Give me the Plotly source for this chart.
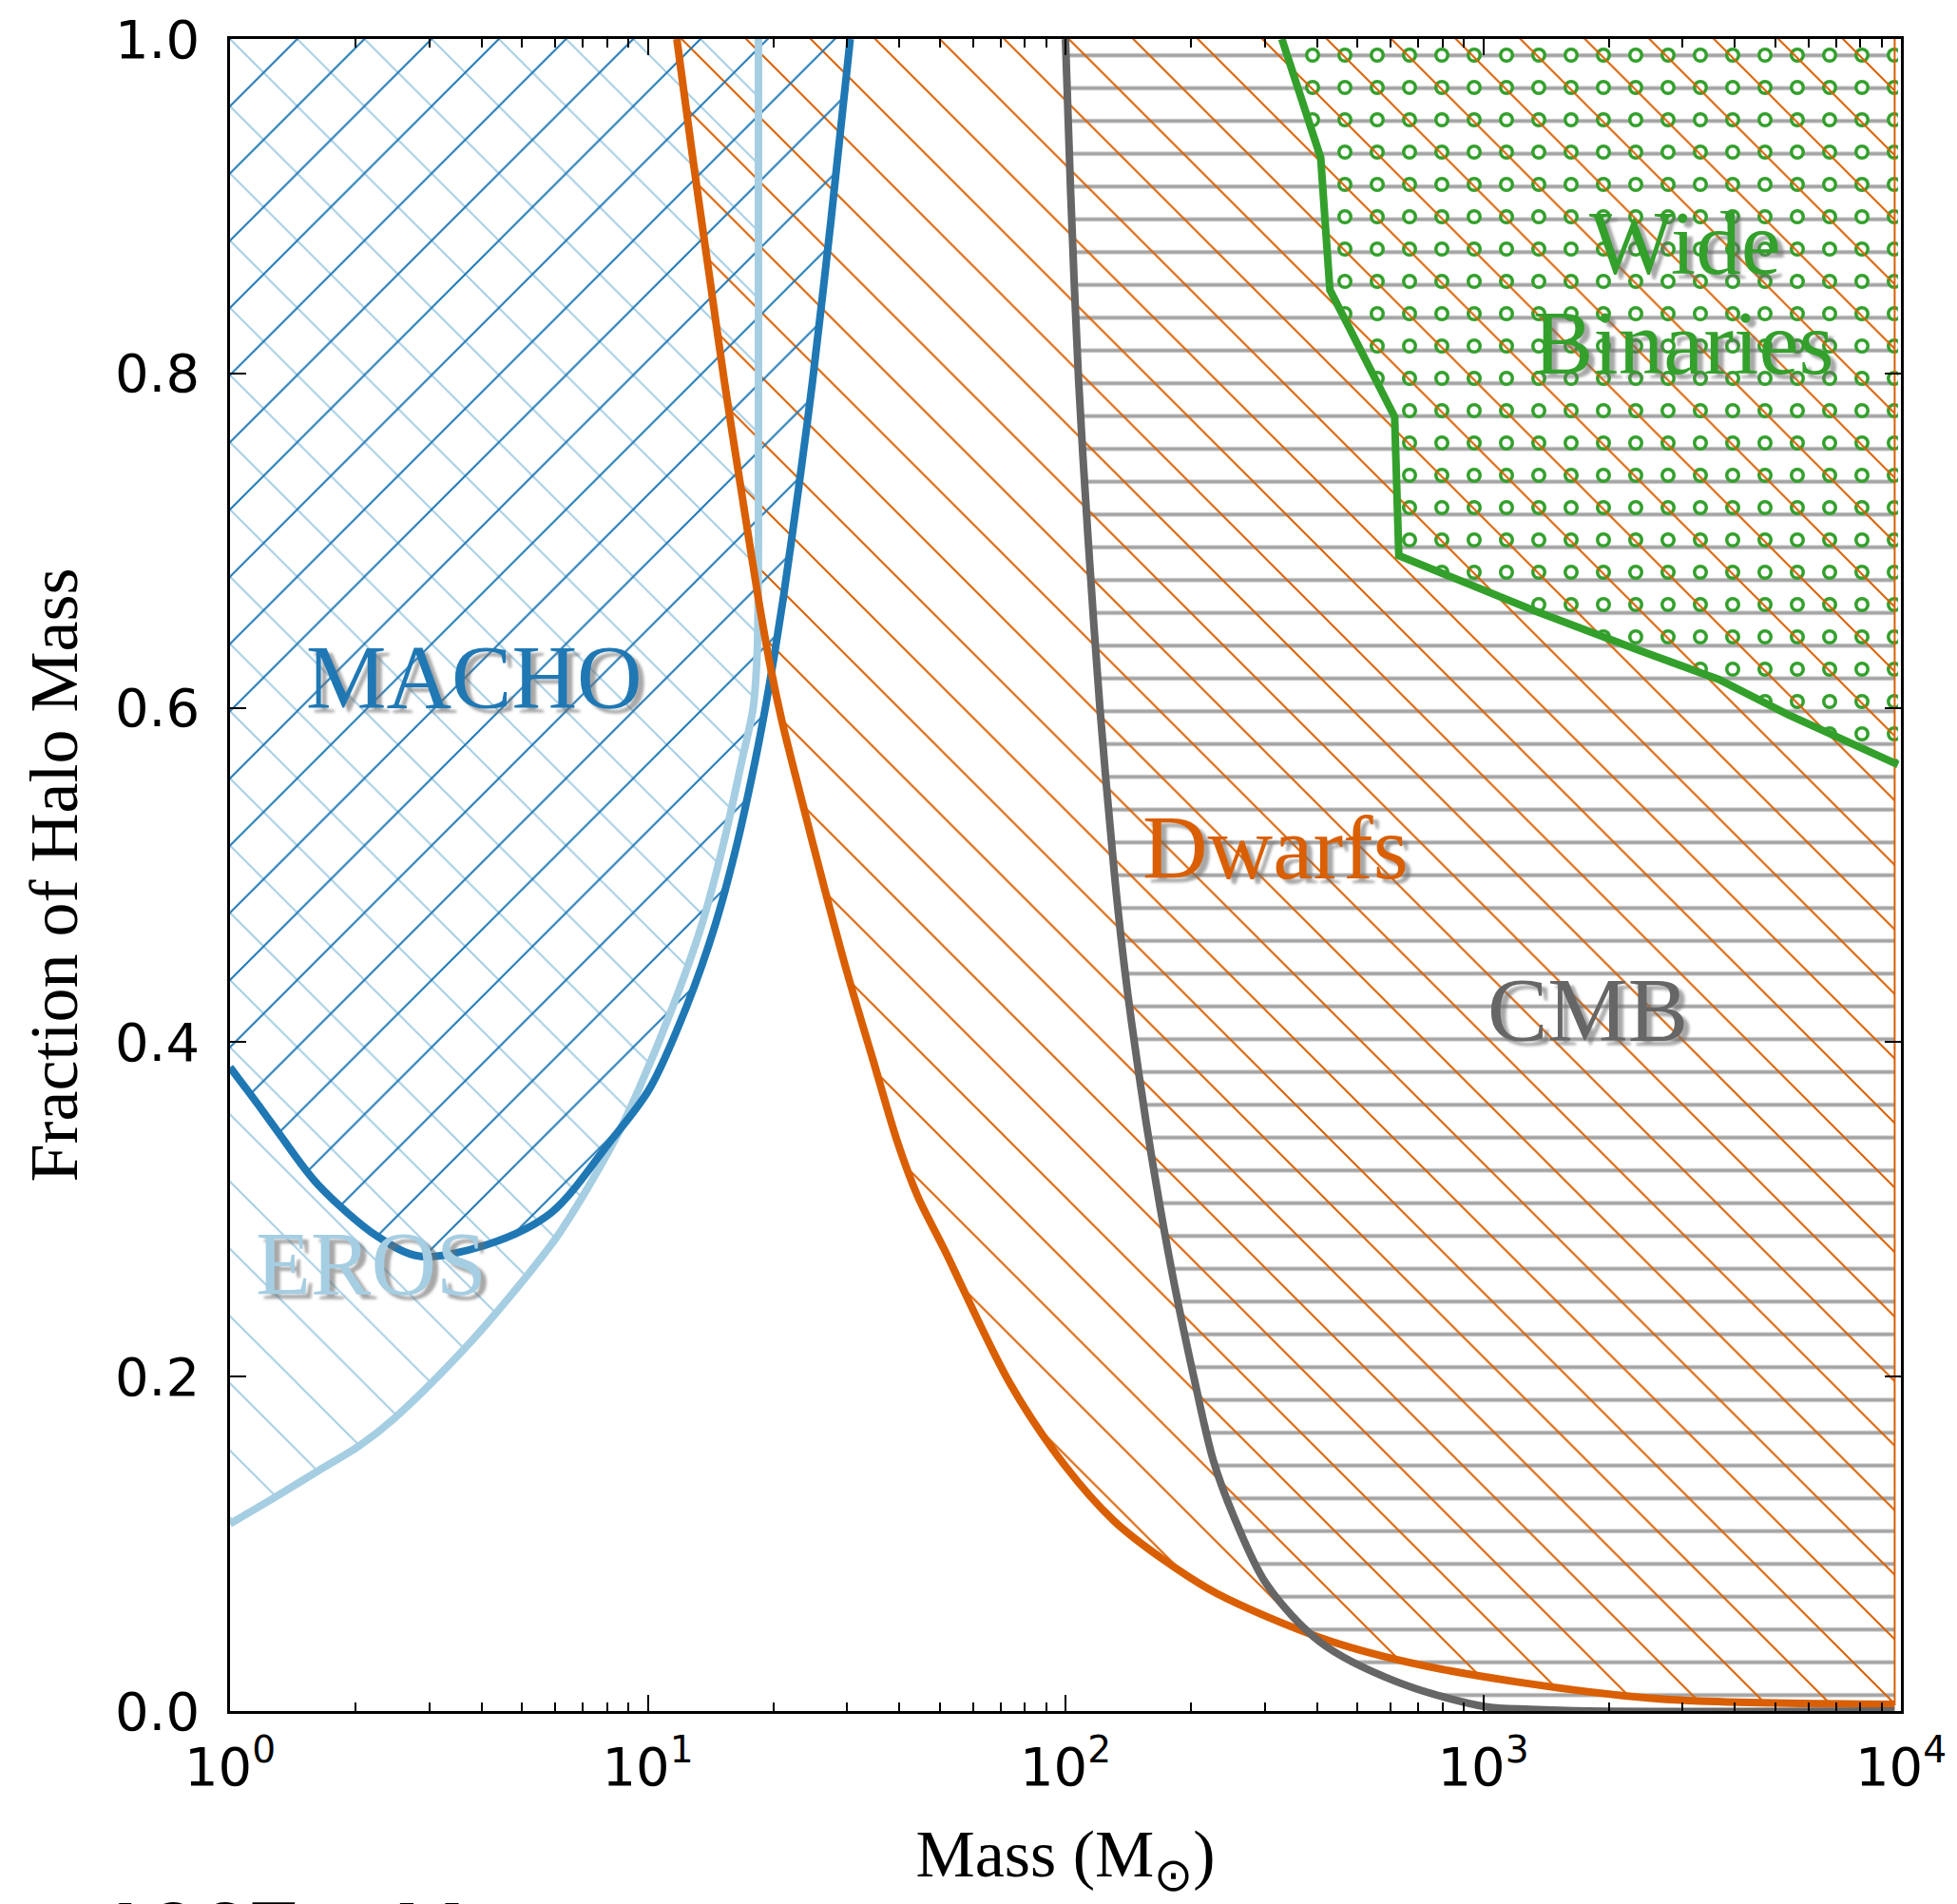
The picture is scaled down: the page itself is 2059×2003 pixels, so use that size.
import math
import plotly.graph_objects as go

# ---------------- data ----------------
# MACHO microlensing bound (upper limit on halo fraction vs mass in Msun)
macho_mass = [1.0, 1.197, 1.314, 1.622, 2.249, 2.842, 4.130, 5.871, 8.15, 10.09,
              12.37, 14.50, 16.37, 18.07, 19.12, 20.14, 21.09, 22.96, 24.82, 27.44, 30.53]
macho_frac = [0.385, 0.359, 0.345, 0.315, 0.284, 0.272, 0.279, 0.298, 0.341, 0.372,
              0.421, 0.470, 0.519, 0.568, 0.600, 0.633, 0.665, 0.731, 0.796, 0.891, 1.0]

# EROS microlensing bound
eros_mass = [1.0, 1.284, 1.622, 2.050, 2.472, 3.589, 4.753, 6.152, 8.318, 9.522,
             11.47, 13.46, 15.19, 16.79, 17.88, 18.28, 18.41, 18.41]
eros_frac = [0.112, 0.128, 0.1435, 0.159, 0.175, 0.215, 0.250, 0.286, 0.341, 0.372,
             0.421, 0.470, 0.519, 0.568, 0.600, 0.633, 0.700, 1.0]

# Ultra-faint dwarf bound
dwarfs_mass = [11.74, 12.83, 13.98, 15.24, 16.72, 18.41, 19.72, 20.91, 23.19, 26.24,
               29.91, 34.56, 39.65, 44.26, 51.29, 73.62, 99.54, 130.3, 171.0, 230.7,
               408.3, 660.7, 1205, 2698, 9661]
dwarfs_frac = [1.0, 0.928, 0.862, 0.796, 0.731, 0.665, 0.623, 0.593, 0.548, 0.496,
               0.443, 0.390, 0.340, 0.308, 0.276, 0.196, 0.147, 0.114, 0.0908, 0.0702,
               0.0438, 0.0292, 0.0174, 0.0071, 0.004]

# CMB bound
cmb_mass = [100.0, 102.8, 107.5, 113.5, 120.9, 130.8, 136.9, 144.1, 156.0, 168.3,
            182.3, 204.4, 225.8, 252.3, 302.7, 408.3, 622.3, 1007, 1300, 1800, 9661]
cmb_frac = [1.0, 0.911, 0.796, 0.698, 0.600, 0.502, 0.455, 0.411, 0.352, 0.302,
            0.255, 0.196, 0.150, 0.117, 0.076, 0.041, 0.0174, 0.0027, 0.001, 0.0, 0.0]

# Wide binaries bound
wb_mass = [329.6, 408.3, 429.5, 613.8, 628.1, 1327, 2382, 3664, 5358, 9840]
wb_frac = [1.0, 0.929, 0.850, 0.774, 0.691, 0.658, 0.634, 0.617, 0.596, 0.566]

# axis ticks
x_tickvals = [1, 10, 100, 1000, 10000]
x_ticktext = ["10<sup>0</sup>", "10<sup>1</sup>", "10<sup>2</sup>", "10<sup>3</sup>", "10<sup>4</sup>"]
x_minor_tickvals = [k * 10 ** d for d in range(4) for k in range(2, 10)]
y_tickvals = [0.0, 0.2, 0.4, 0.6, 0.8, 1.0]
y_ticktext = ["0.0", "0.2", "0.4", "0.6", "0.8", "1.0"]

# region labels: text, mass, fraction
label_text = ["MACHO", "EROS", "Dwarfs", "CMB", "Wide", "Binaries"]
label_mass = [3.85, 2.18, 318.0, 1775.0, 3040.0, 3013.0]
label_frac = [0.618, 0.267, 0.516, 0.419, 0.878, 0.818]

# ---------------- styles ----------------
C_MACHO = "#1f78b4"
C_EROS = "#a6cee3"
C_DWARF = "#d95f02"
C_CMB = "#666666"
C_WB = "#33a02c"
label_colors = [C_MACHO, C_EROS, C_DWARF, C_CMB, C_WB, C_WB]

X_MIN, Y_MAX = 1.0, 1.0
CLEAR = "rgba(0,0,0,0)"

fig = go.Figure()


def region(mass, frac, close_x, shape, fg, size, solidity, edge_width=0, edge_color=CLEAR):
    """Hatched region above a bound curve, closed along the top of the plot."""
    fig.add_trace(go.Scatter(
        x=list(mass) + [close_x], y=list(frac) + [Y_MAX],
        mode="lines", fill="toself", fillcolor=CLEAR,
        line=dict(width=edge_width, color=edge_color),
        fillpattern=dict(shape=shape, fgcolor=fg, bgcolor=CLEAR, size=size,
                         solidity=solidity, fillmode="replace"),
        hoverinfo="skip", showlegend=False))


# hatched regions (drawn back to front)
region(cmb_mass, cmb_frac, cmb_mass[-1], "-", "#a4a4a4", 34.5, 0.12)
region(wb_mass, wb_frac, wb_mass[-1], ".", C_WB, 34, 0.174)
region(wb_mass, wb_frac, wb_mass[-1], ".", "white", 34, 0.055)
region(dwarfs_mass, dwarfs_frac, dwarfs_mass[-1], "\\", C_DWARF, 48, 0.042,
       edge_width=2, edge_color=C_DWARF)
region(eros_mass, eros_frac, X_MIN, "\\", C_EROS, 50, 0.04)
region(macho_mass, macho_frac, X_MIN, "/", C_MACHO, 50, 0.04)

# bound curves
for mass, frac, col, shp in [(eros_mass, eros_frac, C_EROS, "spline"),
                             (macho_mass, macho_frac, C_MACHO, "spline"),
                             (dwarfs_mass, dwarfs_frac, C_DWARF, "spline"),
                             (cmb_mass, cmb_frac, C_CMB, "spline"),
                             (wb_mass, wb_frac, C_WB, "linear")]:
    fig.add_trace(go.Scatter(x=mass, y=frac, mode="lines",
                             line=dict(color=col, width=8, shape=shp, smoothing=0.9),
                             hoverinfo="skip", showlegend=False))

# region labels
for txt, m, f, col in zip(label_text, label_mass, label_frac, label_colors):
    fig.add_annotation(x=math.log10(m), y=f, xref="x", yref="y", text=txt,
                       showarrow=False, xanchor="center", yanchor="middle",
                       font=dict(family="Liberation Serif", size=95, color=col,
                                 shadow="6px 5px 3px rgba(110,110,110,0.6)"))

# partially visible caption cut off by the image bottom
fig.add_annotation(x=-0.080, y=-0.1015, xref="paper", yref="paper", text="1067  eV",
                   showarrow=False, xanchor="left", yanchor="top",
                   font=dict(family="Liberation Sans", size=95, color="black", weight="bold"))

tickfont = dict(family="DejaVu Sans", size=56, color="black")
fig.update_layout(
    width=2059, height=2003,
    margin=dict(l=242, r=59, t=41, b=203),
    paper_bgcolor="white", plot_bgcolor="white", showlegend=False,
)
fig.update_xaxes(
    type="log", range=[0, 4], tickmode="array", tickvals=x_tickvals, ticktext=x_ticktext,
    ticks="inside", ticklen=17, tickwidth=2, tickcolor="black",
    minor=dict(tickmode="array", tickvals=x_minor_tickvals, ticks="inside",
               ticklen=9, tickwidth=1.5, tickcolor="black", showgrid=False),
    showline=True, linecolor="black", linewidth=2.5, mirror="allticks",
    showgrid=False, zeroline=False, tickfont=tickfont, ticklabelstandoff=8,
    title=dict(text="Mass (M<sub>⊙</sub>)", standoff=36,
               font=dict(family="Liberation Serif", size=70, color="black")),
    automargin=False,
)
fig.update_yaxes(
    range=[0, 1], tickmode="array", tickvals=y_tickvals, ticktext=y_ticktext,
    ticks="inside", ticklen=17, tickwidth=2, tickcolor="black",
    showline=True, linecolor="black", linewidth=2.5, mirror="allticks",
    showgrid=False, zeroline=False, tickfont=tickfont, ticklabelstandoff=18,
    title=dict(text="Fraction of Halo Mass", standoff=16,
               font=dict(family="Liberation Serif", size=72, color="black")),
    automargin=False,
)

fig.write_html("out.html")
